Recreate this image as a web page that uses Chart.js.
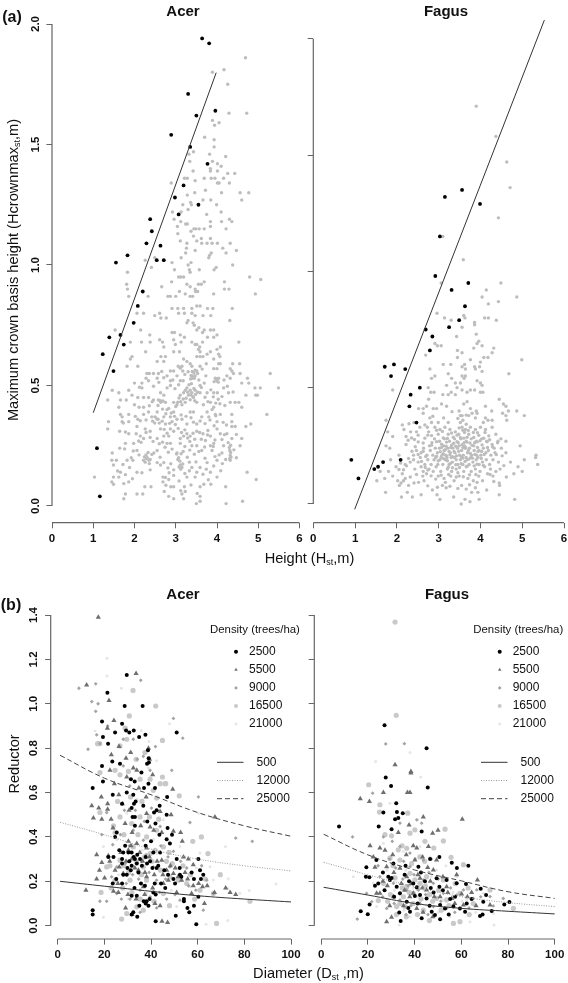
<!DOCTYPE html>
<html>
<head>
<meta charset="utf-8">
<script src="https://cdn.jsdelivr.net/npm/chart.js@4"></script>
<style>
  html, body { margin: 0; background: #fff; }
  #page { position: relative; width: 568px; height: 983px; overflow: hidden; font-family: "Liberation Sans", Arial, sans-serif; color: #111; }
  canvas { position: absolute; }
  .txt { position: absolute; white-space: nowrap; transform: translate(-50%, -50%); font-size: 14.6px; line-height: 1; }
  .rot { transform: translate(-50%, -50%) rotate(-90deg); }
  .head { font-weight: bold; font-size: 15px; }
  .tag { font-weight: bold; font-size: 16px; }
  sub { font-size: 9px; line-height: 0; vertical-align: -2px; }
</style>
</head>
<body>
<div id="page">
  <canvas id="acerHeight" width="305" height="575" style="left:0;top:0"></canvas>
  <canvas id="fagusHeight" width="263" height="575" style="left:305px;top:0"></canvas>
  <canvas id="acerDiam" width="305" height="403" style="left:0;top:580px"></canvas>
  <canvas id="fagusDiam" width="263" height="403" style="left:305px;top:580px"></canvas>

  <div class="txt tag" style="left:12px;top:17px">(a)</div>
  <div class="txt tag" style="left:11px;top:605px">(b)</div>
  <div class="txt head" style="left:183px;top:10px">Acer</div>
  <div class="txt head" style="left:446px;top:10px">Fagus</div>
  <div class="txt head" style="left:183px;top:593px">Acer</div>
  <div class="txt head" style="left:447px;top:593px">Fagus</div>
  <div class="txt rot" style="left:13px;top:270px">Maximum crown basis height (Hcrownmax<sub>st</sub>,m)</div>
  <div class="txt rot" style="left:14px;top:764px">Reductor</div>
  <div class="txt" style="left:309.5px;top:558px">Height (H<sub>st</sub>,m)</div>
  <div class="txt" style="left:308.5px;top:973px">Diameter (D<sub>st</sub> ,m)</div>
</div>
<script>
// tick labels
const heightTicks = [0, 1, 2, 3, 4, 5, 6];
const crownTicks = [0, 0.5, 1, 1.5, 2];
const diamTicks = [0, 20, 40, 60, 80, 100];
const reductorTicks = [0, 0.2, 0.4, 0.6, 0.8, 1, 1.2, 1.4];
const densityLabels = ['2500', '5500', '9000', '16500', '21000'];
const curveLabels = ['500', '12000', '25000'];

// panel (a) boundary lines
const acerBoundary = [[1, 0.387], [3.98, 1.798]];
const fagusBoundary = [[0.99, -0.023], [5.53, 2.08]];

// panel (a) Acer, points on or above the boundary
const acerAbove = [[3.64,1.94],[3.81,1.92],[3.30,1.71],[3.96,1.64],[3.50,1.62],[2.89,1.54],[3.35,1.49],[3.77,1.42],[3.19,1.33],[2.98,1.28],[3.55,1.25],[3.07,1.21],[2.38,1.19],[2.42,1.14],[2.29,1.09],[2.63,1.08],[1.83,1.04],[2.54,1.02],[2.71,1.02],[1.55,1.01],[2.20,.89],[2.08,.83],[1.98,.76],[1.39,.70],[1.66,.71],[1.74,.67],[1.23,.63],[1.49,.56],[1.09,.24],[1.16,.04]];

// panel (a) Acer, remaining trees
const acerRest = [[4.69,1.86],[3.89,1.80],[4.17,1.81],[4.26,1.75],[4.29,1.63],[4.72,1.63],[3.89,1.60],[4.05,1.59],[3.94,1.58],[3.70,1.53],[3.93,1.52],[3.93,1.49],[3.43,1.47],[3.32,1.46],[3.82,1.46],[4.21,1.45],[3.34,1.43],[3.89,1.43],[4.01,1.42],[4.10,1.41],[3.84,1.40],[4.01,1.39],[3.42,1.39],[3.84,1.39],[4.43,1.38],[4.26,1.38],[2.89,1.34],[3.21,1.36],[3.28,1.36],[3.47,1.35],[3.69,1.36],[3.86,1.36],[3.95,1.36],[4.16,1.36],[4.01,1.34],[4.05,1.34],[4.30,1.34],[3.72,1.31],[4.56,1.30],[4.77,1.30],[3.46,1.30],[3.28,1.29],[4.11,1.30],[3.66,1.27],[4.60,1.27],[3.85,1.27],[3.36,1.26],[3.38,1.25],[3.17,1.25],[3.99,1.25],[3.30,1.23],[2.92,1.22],[4.10,1.22],[3.13,1.22],[3.75,1.21],[2.96,1.19],[4.30,1.19],[4.36,1.18],[3.12,1.18],[3.84,1.18],[3.24,1.17],[3.28,1.17],[4.11,1.18],[3.04,1.16],[3.84,1.16],[3.69,1.15],[3.49,1.15],[3.57,1.15],[3.44,1.15],[3.37,1.14],[3.05,1.13],[4.22,1.15],[3.62,1.11],[3.84,1.11],[3.43,1.12],[3.11,1.10],[3.27,1.09],[3.51,1.10],[3.63,1.09],[3.76,1.09],[3.88,1.09],[4.01,1.09],[4.32,1.09],[3.26,1.07],[3.24,1.05],[3.47,1.06],[4.14,1.07],[4.47,1.06],[3.82,1.04],[3.86,1.05],[3.80,1.03],[4.22,1.05],[2.26,1.02],[2.49,1.03],[3.13,1.03],[2.91,1.01],[3.37,1.01],[3.30,1.00],[2.41,.99],[4.38,1.00],[3.98,.99],[3.93,.98],[1.83,.97],[3.57,.98],[2.97,.98],[3.33,.98],[3.35,.97],[3.12,.95],[3.07,.95],[3.19,.95],[4.79,.95],[5.06,.94],[2.90,.93],[3.69,.93],[4.18,.93],[3.27,.92],[1.81,.92],[3.55,.92],[3.62,.92],[2.66,.91],[3.35,.91],[1.83,.90],[4.18,.90],[4.29,.90],[3.47,.90],[1.86,.87],[2.81,.87],[2.87,.87],[3.0,.87],[3.09,.89],[2.33,.87],[3.23,.88],[3.35,.87],[3.41,.87],[3.48,.89],[3.53,.89],[3.92,.88],[4.93,.88],[3.59,.83],[3.51,.83],[3.77,.82],[3.90,.82],[4.37,.82],[2.91,.82],[3.05,.82],[3.19,.82],[3.39,.82],[2.06,.80],[2.22,.80],[2.61,.80],[2.49,.79],[2.64,.78],[2.77,.78],[3.07,.80],[3.21,.80],[3.39,.80],[3.47,.79],[3.66,.79],[3.85,.79],[3.30,.77],[3.27,.76],[3.42,.76],[3.45,.75],[4.31,.77],[3.56,.74],[3.65,.72],[3.51,.73],[3.69,.73],[3.84,.73],[3.92,.73],[4.0,.71],[1.53,.73],[2.91,.72],[2.97,.72],[3.11,.71],[3.21,.70],[2.15,.73],[2.37,.71],[2.61,.69],[2.68,.68],[2.95,.69],[3.13,.68],[2.99,.67],[3.39,.68],[3.47,.67],[3.51,.67],[3.58,.66],[3.65,.68],[3.77,.70],[3.92,.70],[4.53,.68],[1.90,.68],[2.17,.68],[2.38,.68],[2.71,.66],[3.55,.65],[4.08,.66],[4.0,.65],[3.84,.64],[2.27,.64],[2.95,.64],[3.09,.64],[3.59,.64],[3.76,.63],[4.04,.63],[4.07,.62],[2.64,.62],[2.75,.62],[1.94,.62],[3.51,.62],[3.59,.62],[3.66,.62],[1.90,.61],[3.92,.61],[2.55,.60],[2.71,.60],[3.19,.61],[3.27,.60],[3.35,.59],[3.39,.58],[1.82,.58],[2.08,.58],[3.06,.58],[3.15,.58],[4.04,.59],[4.08,.59],[4.38,.59],[4.55,.59],[3.59,.58],[3.74,.59],[4.32,.57],[4.36,.56],[4.40,.55],[2.95,.56],[2.87,.56],[3.17,.56],[3.51,.56],[3.92,.57],[4.0,.57],[2.30,.55],[2.36,.55],[2.46,.55],[2.58,.55],[2.79,.54],[3.03,.54],[3.39,.54],[3.47,.54],[3.53,.55],[3.73,.54],[4.24,.54],[5.29,.55],[4.74,.53],[4.56,.55],[2.55,.53],[2.28,.53],[3.45,.53],[3.40,.53],[3.96,.53],[4.0,.52],[4.04,.53],[4.32,.53],[2.87,.52],[3.11,.52],[3.18,.52],[3.59,.50],[3.69,.51],[2.0,.51],[2.18,.51],[2.34,.52],[4.60,.51],[4.77,.51],[4.16,.49],[3.27,.49],[3.23,.48],[3.35,.48],[3.39,.47],[3.47,.48],[3.43,.45],[3.31,.46],[3.19,.47],[3.11,.46],[3.59,.47],[3.76,.47],[3.92,.47],[4.01,.47],[4.28,.47],[4.92,.49],[5.05,.49],[5.49,.49],[4.70,.46],[4.94,.46],[4.98,.46],[1.46,.48],[1.62,.47],[1.86,.48],[2.18,.49],[2.79,.49],[2.87,.50],[2.63,.47],[2.71,.46],[1.94,.46],[2.08,.45],[2.22,.45],[2.34,.45],[2.46,.44],[2.58,.44],[2.64,.43],[2.75,.43],[1.35,.44],[1.66,.44],[1.80,.44],[2.95,.43],[3.03,.42],[3.15,.42],[3.23,.43],[3.51,.43],[3.67,.42],[3.92,.41],[3.84,.43],[4.32,.43],[4.44,.43],[4.53,.43],[4.60,.41],[1.62,.41],[2.0,.42],[2.11,.41],[2.22,.41],[2.55,.39],[2.79,.40],[2.95,.39],[3.35,.39],[3.43,.39],[3.76,.39],[3.88,.40],[2.34,.39],[1.66,.38],[1.86,.38],[3.96,.38],[4.08,.38],[5.21,.38],[4.36,.38],[1.70,.37],[2.22,.38],[2.42,.37],[2.50,.37],[2.08,.36],[2.71,.37],[2.87,.37],[3.03,.36],[3.15,.36],[3.63,.37],[3.80,.37],[2.57,.36],[1.37,.35],[1.70,.35],[1.86,.35],[2.75,.34],[2.91,.35],[3.27,.34],[3.51,.34],[4.0,.35],[4.36,.35],[4.82,.34],[4.70,.33],[4.36,.33],[4.44,.33],[1.35,.32],[1.64,.31],[2.06,.33],[2.26,.32],[2.38,.31],[2.63,.32],[2.87,.32],[2.95,.31],[3.51,.31],[3.66,.30],[4.0,.32],[4.08,.30],[1.86,.30],[2.04,.30],[2.14,.29],[2.71,.29],[2.83,.29],[3.19,.29],[3.27,.30],[3.35,.29],[3.84,.29],[4.24,.30],[4.60,.28],[4.36,.28],[2.22,.28],[2.55,.28],[3.11,.28],[1.78,.26],[1.98,.26],[2.10,.27],[2.79,.26],[2.87,.26],[3.11,.26],[3.39,.25],[3.51,.25],[3.84,.25],[3.92,.26],[4.16,.25],[4.56,.25],[1.64,.24],[2.06,.23],[2.55,.23],[3.03,.22],[3.63,.23],[3.88,.23],[4.12,.22],[4.31,.23],[4.32,.21],[1.46,.22],[1.45,.19],[1.56,.19],[1.82,.19],[1.92,.20],[1.96,.19],[2.31,.20],[2.22,.19],[2.35,.19],[2.47,.22],[2.55,.18],[2.63,.17],[2.71,.18],[3.07,.20],[3.11,.17],[3.15,.16],[2.95,.15],[3.39,.16],[3.59,.16],[3.76,.18],[4.0,.19],[4.32,.19],[4.47,.20],[1.49,.17],[1.66,.14],[1.88,.16],[2.06,.14],[2.38,.15],[3.51,.14],[3.84,.14],[4.73,.14],[1.49,.12],[1.03,.12],[1.62,.12],[1.78,.13],[2.69,.12],[2.83,.11],[3.27,.12],[3.47,.12],[4.0,.12],[4.95,.11],[1.45,.10],[1.86,.10],[2.69,.10],[1.49,.09],[3.68,.09],[3.85,.09],[2.25,.08],[2.40,.08],[2.88,.08],[2.95,.08],[4.21,.08],[3.59,.08],[3.21,.08],[1.78,.05],[2.06,.05],[2.20,.05],[2.72,.06],[3.15,.05],[3.23,.06],[1.74,.03],[2.83,.04],[2.95,.03],[3.19,.03],[3.59,.04],[4.62,.02],[4.22,.01],[3.50,.01],[3.59,.02]];

// panel (a) Acer, second pass over the crowded lower part
const acerCrowded = [[3.32,.503],[3.38,.507],[3.44,.488],[3.29,.472],[3.36,.462],[3.41,.455],[3.48,.463],[3.53,.472],[3.25,.447],[3.35,.441],[3.46,.437],[3.37,.542],[3.42,.535],[3.44,.552],[3.36,.527],[3.47,.563],[3.40,.558],[3.98,.527],[4.03,.514],[3.93,.516],[3.12,.433],[3.05,.431],[3.18,.444],[3.0,.413],[3.08,.448],[2.28,.212],[2.33,.222],[2.38,.193],[2.26,.182],[2.29,.197],[2.42,.214],[2.36,.176],[2.24,.204],[4.30,.243],[4.33,.222],[4.34,.203],[4.31,.197],[4.33,.252],[3.08,.162],[3.12,.153],[3.17,.174],[3.05,.193],[3.13,.217],[3.02,.216],[3.10,.186],[2.63,.437],[2.69,.436],[2.57,.417],[2.68,.402],[2.76,.383],[2.83,.405],[2.44,.352],[2.49,.344],[2.54,.361],[2.60,.344],[2.67,.352],[2.72,.318],[2.79,.302],[2.85,.343],[2.99,.338],[3.06,.322],[3.14,.305],[3.22,.316],[3.29,.282],[3.34,.268],[3.42,.302],[3.46,.277],[3.58,.305],[3.62,.277],[3.72,.272],[3.77,.295],[3.91,.247],[3.95,.274],[4.12,.276],[4.18,.296],[4.27,.263],[3.70,.245],[3.56,.226],[3.45,.215],[3.34,.232],[3.22,.247],[3.18,.226],[3.28,.202],[2.91,.236],[2.82,.223],[2.74,.244],[2.68,.265],[2.60,.258],[2.45,.268],[2.38,.284],[2.28,.305],[2.16,.264],[2.11,.212],[2.62,.202],[2.88,.175],[2.81,.158],[3.22,.135],[3.33,.146],[3.66,.132],[3.74,.153],[3.92,.166],[4.13,.176],[4.21,.193],[2.75,.118],[2.84,.138],[2.18,.138],[1.95,.113],[1.74,.093],[1.59,.145],[1.72,.172],[1.97,.228],[1.76,.237],[1.78,.307],[1.73,.344],[2.02,.372],[2.14,.354],[2.28,.357],[2.36,.416],[2.43,.433],[2.12,.493],[2.46,.497],[2.59,.513],[2.66,.558],[2.71,.532],[2.93,.523],[2.98,.487],[3.07,.503],[3.11,.572],[3.22,.546],[3.30,.557],[3.56,.523],[3.62,.492],[3.64,.568],[3.71,.451],[3.78,.433],[3.85,.482],[3.91,.453],[3.97,.427],[4.03,.443],[4.07,.424],[4.12,.454],[4.17,.523],[4.19,.417],[4.25,.497],[4.39,.473],[3.97,.374],[3.83,.357],[3.71,.342],[3.59,.353],[3.43,.348],[3.37,.366],[3.25,.372],[3.13,.378],[2.97,.372],[2.89,.386],[3.78,.313],[3.93,.333],[4.15,.347],[4.23,.336],[4.47,.297],[4.41,.233],[4.05,.212],[3.95,.205],[3.71,.198],[3.49,.183],[3.33,.182],[2.95,.127],[3.08,.104],[3.37,.087],[3.12,.063],[2.76,.086],[3.52,.052],[3.79,.109],[4.09,.146]];

// panel (a) Fagus, points on or above the boundary
const fagusAbove = [[3.56,1.35],[3.15,1.32],[3.99,1.29],[3.03,1.15],[2.92,.98],[3.71,.95],[3.31,.92],[3.63,.85],[3.49,.79],[3.25,.76],[2.69,.75],[2.85,.72],[2.79,.66],[1.71,.59],[1.93,.60],[2.20,.58],[1.86,.55],[2.55,.50],[2.33,.47],[2.30,.42],[2.47,.35],[0.91,.19],[2.09,.19],[1.67,.18],[1.55,.16],[1.46,.15],[1.08,.11]];

// panel (a) Fagus, remaining trees
const fagusRest = [[3.90,1.71],[4.37,1.58],[4.63,1.47],[4.71,1.36],[4.43,1.23],[3.10,1.15],[3.59,1.05],[3.06,.95],[4.49,.95],[4.14,.92],[4.04,.89],[4.87,.89],[4.19,.86],[4.43,.87],[2.96,.82],[3.60,.81],[3.14,.80],[3.30,.79],[3.63,.80],[4.10,.80],[4.19,.80],[4.38,.79],[3.86,.78],[3.86,.77],[3.56,.76],[3.43,.72],[3.90,.73],[3.96,.70],[3.92,.69],[3.84,.67],[4.04,.68],[2.97,.68],[3.06,.68],[2.91,.69],[3.45,.66],[3.56,.65],[4.32,.67],[4.28,.65],[4.18,.63],[4.08,.63],[2.69,.64],[3.45,.63],[3.76,.62],[4.99,.62],[4.0,.61],[3.11,.60],[3.29,.60],[3.62,.60],[3.56,.59],[3.64,.58],[3.86,.59],[3.88,.58],[3.98,.59],[4.04,.57],[4.68,.56],[2.79,.58],[3.23,.56],[3.56,.55],[2.91,.55],[2.83,.54],[3.31,.54],[3.64,.55],[3.61,.54],[3.92,.53],[3.40,.52],[3.52,.52],[3.19,.51],[4.0,.52],[4.04,.51],[3.44,.50],[1.90,.49],[2.75,.50],[3.56,.49],[3.76,.49],[3.86,.49],[3.30,.48],[2.81,.48],[2.89,.48],[4.0,.48],[4.06,.48],[3.68,.48],[3.10,.47],[3.40,.47],[2.76,.45],[3.23,.47],[3.68,.44],[4.45,.45],[4.55,.43],[3.07,.43],[3.19,.42],[3.60,.43],[4.12,.42],[2.52,.41],[2.63,.41],[2.71,.42],[2.87,.41],[2.95,.41],[4.61,.42],[4.67,.40],[4.87,.40],[3.76,.41],[3.90,.40],[4.27,.40],[2.63,.39],[3.49,.40],[3.56,.38],[3.80,.39],[3.92,.39],[4.53,.39],[4.61,.38],[4.63,.36],[5.05,.38],[3.52,.38],[3.72,.38],[3.88,.37],[2.79,.37],[4.12,.37],[4.28,.36],[1.74,.36],[2.83,.35],[2.99,.35],[3.23,.35],[3.52,.35],[4.07,.35],[4.18,.36],[2.13,.34],[2.17,.32],[2.33,.31],[2.47,.31],[2.67,.34],[2.73,.33],[2.91,.33],[3.03,.32],[3.15,.33],[3.27,.32],[3.40,.31],[3.56,.33],[3.64,.32],[3.76,.33],[3.88,.32],[4.0,.33],[4.28,.33],[1.78,.31],[1.90,.29],[2.22,.29],[2.35,.284],[2.51,.296],[2.67,.283],[2.83,.294],[2.99,.30],[3.11,.284],[3.23,.30],[3.35,.287],[3.48,.30],[3.60,.283],[3.72,.30],[3.84,.286],[3.96,.295],[4.08,.283],[4.20,.293],[4.37,.30],[4.49,.28],[1.74,.25],[2.22,.256],[2.51,.267],[2.83,.253],[2.95,.268],[3.07,.257],[3.19,.266],[3.31,.253],[3.44,.268],[3.56,.255],[3.68,.266],[3.80,.252],[3.92,.267],[4.04,.254],[4.16,.268],[4.28,.256],[4.41,.263],[4.61,.27],[4.95,.25],[5.33,.21],[5.32,.20],[5.37,.17],[5.05,.19],[4.72,.18],[4.61,.22],[4.50,.24],[4.90,.16],[5.0,.14],[4.80,.13],[4.35,.22],[4.43,.18],[4.47,.15],[4.30,.12],[4.45,.09],[4.46,.08],[4.82,.02],[4.45,.04],[3.97,.02],[3.75,.01],[3.63,.02],[3.54,.0],[3.79,.05],[3.36,.03],[3.03,.02],[2.96,.04],[2.58,.04],[2.37,.03],[2.25,.05],[2.11,.03],[1.73,.05],[2.85,.06],[3.18,.07],[2.41,.09],[2.28,.08],[2.65,.10],[3.09,.08],[3.37,.10],[3.55,.08],[3.88,.07],[3.94,.05],[4.15,.06],[1.52,.10],[1.71,.11],[1.90,.12],[2.02,.10],[2.06,.08],[2.10,.09],[2.16,.10],[2.20,.11],[2.13,.13],[2.62,.12],[2.71,.13],[2.99,.12],[3.13,.11],[3.29,.12],[3.49,.12],[3.70,.11],[3.83,.10],[3.96,.12],[4.05,.10],[4.17,.13],[1.60,.14],[1.80,.14],[1.98,.16],[2.43,.15],[2.58,.16],[2.63,.14],[2.77,.15],[2.87,.14],[2.94,.16],[3.05,.14],[3.21,.15],[3.31,.14],[3.42,.15],[3.60,.14],[3.66,.16],[3.78,.14],[3.88,.15],[3.99,.14],[4.10,.16],[4.24,.15],[4.37,.14],[2.20,.17],[2.32,.18],[2.40,.19],[2.51,.18],[2.56,.20],[2.67,.17],[2.74,.19],[2.82,.17],[2.89,.19],[2.98,.17],[3.03,.19],[3.10,.17],[3.16,.19],[3.25,.17],[3.33,.18],[3.38,.20],[3.46,.17],[3.52,.19],[3.58,.17],[3.68,.19],[3.73,.17],[3.82,.18],[3.90,.19],[3.97,.17],[4.05,.18],[4.14,.19],[4.22,.17],[4.30,.19],[2.40,.21],[2.47,.23],[2.58,.22],[2.64,.24],[2.72,.21],[2.80,.23],[2.86,.21],[2.92,.24],[2.97,.22],[3.02,.24],[3.08,.21],[3.13,.23],[3.17,.21],[3.22,.24],[3.28,.22],[3.34,.24],[3.39,.22],[3.45,.24],[3.50,.21],[3.55,.23],[3.59,.21],[3.63,.24],[3.69,.22],[3.74,.24],[3.79,.21],[3.85,.23],[3.91,.21],[3.97,.23],[4.01,.21],[4.07,.24],[4.13,.22],[4.19,.23],[4.25,.21],[4.33,.24],[2.93,.20],[3.06,.20],[3.12,.25],[3.20,.20],[3.30,.20],[3.42,.19],[3.49,.25],[3.56,.20],[3.62,.25],[3.66,.20],[3.71,.23],[3.77,.20],[3.84,.25],[3.94,.20],[2.78,.25],[2.90,.28],[3.02,.27],[3.14,.28],[3.26,.27],[3.38,.28],[3.53,.28],[3.66,.27],[3.78,.28],[3.90,.27],[4.03,.28],[4.15,.27]];

// panel (a) Fagus, second pass over the crowded core
const fagusCrowded = [[3.04,.225],[3.11,.216],[3.07,.243],[3.16,.233],[3.19,.207],[2.95,.205],[2.99,.186],[3.12,.195],[3.21,.186],[3.27,.212],[3.33,.203],[3.37,.226],[3.43,.207],[3.48,.227],[3.54,.204],[3.58,.243],[3.61,.264],[3.65,.242],[3.68,.287],[3.62,.307],[3.66,.343],[3.58,.317],[3.52,.286],[3.47,.263],[3.41,.248],[3.36,.261],[3.29,.243],[3.25,.226],[3.18,.248],[3.54,.173],[3.50,.157],[3.46,.134],[3.41,.169],[3.33,.156],[3.28,.174],[3.23,.158],[3.58,.197],[3.63,.183],[3.68,.162],[3.73,.193],[3.76,.217],[3.81,.197],[3.87,.213],[3.93,.243],[3.99,.272],[3.86,.263],[3.75,.262],[3.94,.226],[4.03,.226],[4.09,.213],[4.17,.243],[4.02,.196],[4.07,.166],[3.92,.171],[3.85,.164],[3.74,.126],[3.59,.117],[3.42,.116],[3.24,.127],[3.06,.124],[2.93,.107],[2.82,.121],[2.74,.146],[2.68,.157],[2.59,.183],[2.69,.204],[2.63,.227],[2.51,.213],[2.44,.246],[2.36,.227],[2.28,.196],[2.23,.164],[2.16,.147],[2.09,.176],[2.05,.148],[2.84,.264],[2.74,.296],[2.63,.262],[2.42,.277],[2.27,.274],[2.95,.317],[3.09,.312],[3.21,.282],[3.31,.305],[3.44,.296],[3.49,.327],[3.71,.316],[3.83,.307],[3.93,.306],[4.11,.307],[4.22,.276],[4.29,.246],[4.38,.212],[4.12,.32],[3.58,.36],[3.66,.382],[3.46,.368],[3.12,.37],[3.32,.397],[2.86,.377],[2.76,.31],[2.55,.33],[2.41,.35],[2.29,.345],[4.23,.127],[4.32,.097],[3.92,.093],[3.74,.083],[3.46,.067],[3.27,.076],[2.97,.072],[2.74,.078],[2.52,.093],[2.32,.116],[2.47,.127],[3.16,.093],[3.66,.064],[3.89,.127],[4.42,.27],[4.52,.207],[4.56,.165],[4.62,.116],[2.05,.21],[1.85,.19],[1.83,.24]];

// panel (b) Acer, one list per density class
const acer2500 = [[29.6,1.13],[21.3,1.05],[28.7,.99],[36.4,.99],[19,.92],[27.6,.91],[29.3,.88],[30.7,.87],[32.6,.88],[24.6,.87],[19.4,.85],[34.9,.85],[37.6,.86],[51,.87],[21.6,.82],[38.7,.79],[39,.755],[23.4,.74],[26.7,.73],[38.3,.73],[39.1,.735],[19,.72],[35.9,.69],[31.4,.66],[33,.65],[19.4,.65],[15,.62],[37,.62],[41.7,.62],[38.9,.64],[23.6,.59],[29.6,.60],[32.4,.59],[33.4,.56],[46.9,.58],[27.6,.55],[32.7,.55],[36.7,.54],[43.7,.54],[31.7,.53],[41.3,.51],[42.4,.52],[46.7,.50],[32.1,.49],[33.1,.49],[38.4,.47],[33.1,.45],[41.9,.46],[25.3,.42],[24.6,.40],[47.1,.44],[43.6,.41],[49,.41],[46.7,.39],[48.1,.37],[40,.38],[37.7,.36],[28.1,.33],[30.3,.33],[31.7,.33],[34.1,.32],[23.9,.31],[21.7,.31],[37.7,.31],[41,.33],[43.9,.33],[27.6,.30],[33.1,.30],[35.3,.30],[39.6,.29],[60.3,.30],[51,.30],[27.6,.28],[31.7,.27],[42.4,.26],[33.9,.28],[31.3,.25],[61,.25],[57.4,.24],[62.4,.23],[52.4,.23],[53,.22],[28.1,.23],[29.6,.23],[61.4,.21],[58.4,.21],[41.6,.19],[44.3,.19],[50.3,.19],[23.6,.19],[27.6,.19],[32.9,.17],[41,.15],[42,.14],[31.7,.135],[33.9,.135],[60.3,.13],[54.1,.12],[54.1,.11],[38.1,.11],[37.7,.10],[38.9,.09],[35,.09],[58.4,.09],[55.6,.08],[56.4,.06],[15,.07],[15,.05],[32.4,.06],[34.1,.04],[31.7,.05],[50.6,.045],[42,.02],[59.4,.006],[30.7,.29],[32.6,.31],[36.1,.27],[38.3,.28],[40.6,.26],[43.1,.27],[45.7,.25],[47.3,.23],[49.6,.21],[26.4,.34],[28.9,.36],[25.1,.21],[35.7,.19],[46.1,.17],[37.4,.18],[39.4,.12],[36.9,.11],[29.9,.26],[34.6,.24],[52.3,.26]];
const acer5500 = [[17.4,1.39],[33.6,1.136],[12.4,1.085],[22,1.015],[24.1,.925],[21.3,.89],[26.3,.807],[38.9,.80],[23,.77],[31.3,.78],[29.3,.755],[39.4,.75],[22.4,.70],[32.4,.71],[33.9,.70],[24.3,.64],[40.7,.68],[29.6,.67],[49.3,.615],[18.7,.58],[14.6,.54],[21.4,.55],[17.6,.53],[21.4,.525],[27.7,.55],[15.3,.485],[18.9,.48],[22.9,.48],[48.6,.50],[67.4,.49],[44.6,.42],[49.6,.425],[52.7,.42],[53.4,.38],[16.7,.32],[18.9,.285],[21.7,.315],[17.9,.25],[16.7,.21],[12.1,.16],[20.1,.215],[23.9,.155],[26,.15],[29.1,.08],[31.9,.05],[44.7,.02],[47.1,.014],[72,.17],[73.9,.15],[76.3,.14],[62.9,.10],[30.3,.38],[33.9,.37],[31.7,.30],[30.3,.34],[26.4,.265],[38.1,.35],[34.6,.25],[38.1,.22],[28.1,.235],[44.6,.295],[46.7,.25],[49.6,.235],[53.9,.31],[56,.30],[58.1,.275],[62.1,.175],[58.1,.18],[53.1,.205],[45.3,.19],[36.7,.175],[47.4,.205],[41.7,.10],[43.9,.09],[51,.15],[57.4,.145],[43.9,.515],[39.6,.445],[38.1,.505],[28.9,.46],[27.1,.33],[29.3,.29],[31.4,.36],[33.1,.26],[35.2,.33],[36.4,.29],[37.4,.24],[39.3,.31],[41.4,.23],[42.6,.29],[45.1,.23],[48.3,.27],[50.4,.26],[51.6,.22],[54.6,.24],[55.7,.21],[60.4,.19],[64.1,.18],[67.2,.15],[24.6,.25],[22.3,.29],[25.8,.19],[30.1,.14],[33.6,.12],[37.3,.14],[40.7,.17],[35.6,.45],[30.6,.52],[26.2,.59],[34.8,.62],[37.9,.58],[41.2,.43],[23.7,.44],[31.9,.42]];
const acer9000 = [[9.1,1.07],[16.3,1.09],[35.6,1.106],[14.6,1.01],[17.3,1.0],[16.3,.966],[49.6,.934],[21.4,.90],[16.7,.86],[13,.795],[53.6,.845],[48.9,.70],[41.9,.807],[32.4,.84],[28.1,.84],[18.1,.82],[36.7,.763],[34.1,.75],[28.1,.72],[39.6,.70],[60.3,.58],[56.7,.465],[76.3,.395],[83.4,.38],[21,.51],[18.9,.41],[23.6,.365],[21,.11],[18.1,.11],[43.9,.447],[32.4,.43],[25.3,.265],[41,.265],[48.1,.265],[55.3,.26],[63.9,.205],[66.7,.145],[31,.12],[39.6,.13],[46.7,.12],[36,.29],[28.9,.28],[42.4,.205],[35.3,.16],[36.7,.385],[49.6,.335],[52.4,.115],[42.4,.08],[25.3,.145],[35.3,.06],[62.4,.07],[24.1,.31],[26.9,.41],[28.6,.52],[30.9,.63],[33.3,.52],[37.1,.47],[40.2,.53],[44.2,.36],[47.3,.31],[52.7,.29],[56.1,.18],[59.2,.16],[61.7,.27],[34.7,.21],[37.9,.32],[29.4,.19],[32.1,.23],[46.2,.21],[50.3,.14],[43.7,.15],[27.3,.12],[23.1,.22],[39.2,.24],[30.7,.36]];
const acer16500 = [[32.3,1.06],[42,.99],[30.7,.945],[28.9,.89],[17.1,.82],[18,.82],[29.6,.84],[44.9,.835],[26.7,.81],[37.4,.78],[18.1,.69],[24.6,.70],[33.6,.75],[43.9,.64],[44.9,.67],[30.3,.695],[39.6,.66],[46.3,.64],[35.3,.66],[26.7,.68],[52.1,.585],[18.1,.51],[23.9,.45],[24.6,.42],[41,.61],[46,.64],[42.4,.575],[57.9,.38],[61.6,.40],[64.4,.325],[22.4,.27],[21,.265],[69.7,.23],[66.7,.145],[82.4,.11],[68.1,.01],[27.4,.03],[18.6,.15],[32.4,.355],[36.7,.265],[26.7,.295],[31,.205],[38.1,.205],[39.6,.325],[45.3,.355],[48.1,.22],[51.7,.205],[55.3,.19],[61,.16],[36.7,.07],[45.3,.145],[29.6,.055],[33.9,.085],[24.6,.205],[35.3,.49],[26.7,.49],[38.1,.40],[42.4,.43],[28.3,.27],[30.4,.24],[33.7,.29],[35.9,.23],[37.3,.31],[40.4,.29],[41.8,.34],[44.1,.25],[46.6,.29],[47.7,.33],[49.1,.28],[53.7,.27],[56.9,.23],[58.7,.12],[63.3,.21],[27.9,.17],[31.8,.15],[35.4,.12],[41.3,.11],[47.9,.09],[22.9,.17],[25.7,.56],[31.2,.58],[36.1,.56],[39.3,.49],[28.4,.41],[31.7,.46],[34.4,.41],[43.3,.48]];
const acer21000 = [[21.1,1.205],[21.1,1.125],[27.3,1.07],[16,.877],[35.9,.88],[47.9,.91],[42.4,.743],[39.1,.83],[38.9,.71],[60.3,.507],[93.6,.188],[82.1,.158],[71.9,.357],[72.9,.167],[72.9,.023],[63.6,.006],[19.6,.038],[65.3,.266],[66.7,.206],[73.1,.212],[78.1,.146],[32.4,.266],[42.4,.326],[25.3,.387],[35.3,.447],[52.4,.357],[61,.327],[29.6,.507],[19.6,.357],[38.1,.146],[51,.086],[45.3,.477],[56.7,.176],[34.1,.57],[41.1,.39],[47.6,.38],[54.2,.31],[59.4,.26],[26.1,.23],[30.3,.12],[43.2,.19],[36.2,.34],[48.7,.16]];

// panel (b) Fagus, one list per density class
const fagus2500 = [[27.1,.903],[45.1,.80],[27.6,.668],[29.9,.63],[45.6,.623],[7.6,.447],[32.1,.552],[26.6,.51],[32.4,.512],[34.9,.507],[31.6,.48],[33,.485],[24.6,.447],[30.1,.435],[43,.424],[23.6,.296],[19.3,.263],[30.9,.28],[19.1,.22],[20.6,.218],[28.7,.22],[29.4,.206],[23,.18],[24.4,.19],[41.6,.266],[46.6,.30],[50.6,.31],[55.9,.284],[58.1,.26],[63,.27],[49.4,.214],[50.6,.176],[40.9,.173],[53.7,.206],[62,.188],[58,.191],[68.3,.166],[70.6,.138],[32.3,.176],[33.7,.146],[36.6,.108],[40.1,.134],[42.3,.138],[45.1,.123],[50.9,.093],[53,.078],[59.4,.078],[62.3,.10],[69.4,.108],[80.6,.107],[78.4,.096],[16.9,.065],[19.9,.051],[20.7,.095],[33.4,.059],[34,.021],[38,.063],[43,.033],[47.3,.063],[48.7,.048],[50.9,.029],[68,.044],[69.1,.05],[61.6,.063],[73,.066],[56.6,.086],[26.4,.24],[30.1,.215],[35.7,.23],[37.6,.20],[39.4,.19],[44.4,.20],[46.9,.17],[48.1,.15],[52.1,.16],[55.2,.12],[57.3,.13],[64.4,.12],[37.3,.08],[41.3,.10],[46.4,.09],[54.6,.05],[31.2,.13],[27.1,.16],[42.7,.24],[36.1,.27]];
const fagus5500 = [[31.6,.725],[38.4,.695],[38.4,.688],[16.7,.572],[20.6,.56],[26.6,.60],[36.9,.60],[38,.60],[43.7,.49],[60.4,.48],[37.6,.454],[33,.42],[47.7,.417],[50,.43],[20.9,.36],[25.1,.35],[39.4,.36],[45.9,.357],[40.9,.35],[22.3,.31],[27.3,.34],[40.1,.296],[49.4,.296],[45.6,.262],[28,.266],[58,.229],[66.9,.206],[64.4,.15],[60.1,.143],[28,.018],[30.1,.038],[23.7,.146],[23,.263],[33.7,.259],[36.6,.22],[42.3,.214],[48,.251],[53.7,.176],[55.9,.123],[45.1,.161],[39.4,.146],[30.9,.13],[25.1,.146],[60.9,.093],[72.3,.093],[50.9,.13],[40.9,.078],[26.4,.20],[28.3,.18],[31.1,.24],[34.3,.19],[35.7,.16],[37.9,.13],[38.6,.19],[41.4,.23],[43.3,.17],[46.7,.20],[48.4,.13],[52.1,.22],[54.2,.15],[57.2,.10],[62.6,.13],[66.3,.09],[35.2,.09],[29.3,.09],[43.6,.06],[47.8,.04],[36.4,.32],[43.4,.31],[30.6,.32]];
const fagus9000 = [[27.6,.819],[35.6,.82],[22,.597],[13.4,.40],[43,.462],[40.9,.477],[33.7,.462],[26.6,.40],[33.7,.357],[38,.327],[43.7,.296],[25.1,.221],[30.9,.191],[36.6,.161],[48,.191],[52.3,.146],[58,.138],[65.1,.123],[72.3,.131],[78,.123],[73.7,.089],[28,.078],[33.7,.116],[42.3,.10],[48,.086],[53.7,.078],[21.6,.108],[15.4,.03],[38,.266],[43.7,.206],[19.4,.146],[60.9,.161],[66.6,.161],[24.3,.27],[29.2,.30],[31.9,.26],[34.9,.21],[35.3,.29],[37.2,.18],[39.7,.23],[41.6,.16],[44.7,.14],[46.1,.24],[50.1,.21],[51.2,.11],[55.4,.17],[57.2,.06],[63.3,.08],[68.3,.13],[31.2,.10],[38.4,.09],[45.7,.05],[36.3,.05],[26.3,.13],[40.2,.30],[47.2,.30],[30.4,.38]];
const fagus16500 = [[31.6,1.368],[32.1,.948],[20.3,.635],[25.1,.545],[24.9,.512],[37,.507],[27.3,.41],[30.1,.405],[52.3,.382],[53,.435],[44.4,.38],[38,.417],[40.1,.432],[33,.342],[36.6,.349],[29.4,.304],[33.7,.296],[55.6,.308],[60.9,.275],[38,.236],[40.1,.206],[42.3,.191],[33.7,.1],[32.3,.086],[35.9,.086],[39.4,.1],[43.7,.07],[46.3,.023],[56.6,.01],[59.4,.018],[82.3,.078],[72.3,.161],[65.1,.1],[24.4,.113],[53.7,.116],[49.4,.123],[36.6,.176],[26.6,.191],[45.1,.221],[52.3,.206],[59.4,.146],[39.4,.146],[31.6,.215],[34.7,.17],[35.2,.13],[37.7,.15],[38.7,.28],[41.3,.17],[42.7,.12],[44.6,.18],[46.4,.14],[47.7,.11],[50.3,.16],[51.4,.07],[54.7,.09],[57.4,.19],[62.9,.17],[63.4,.05],[29.6,.14],[28.4,.11],[36.4,.04],[41.2,.05],[30.7,.27],[34.6,.36],[42.2,.31],[48.2,.35],[44.3,.29],[32.2,.05]];
const fagus21000 = [[23.3,.74],[38,.78],[42.6,.67],[29.4,.552],[41.1,.477],[13.7,.221],[33.4,.003],[74,.003],[77.7,.123],[63.7,.018],[46.6,.31],[26.6,.372],[35.1,.334],[42.3,.357],[49.4,.251],[30.9,.221],[22.3,.191],[33.7,.138],[41.6,.131],[52.3,.116],[62.3,.116],[69.4,.146],[45.1,.093],[38,.04],[23.7,.086],[73.7,.056],[55.1,.04],[58,.221],[36.2,.25],[39.3,.17],[44.2,.16],[47.1,.22],[56.4,.15],[60.3,.11],[66.2,.06],[31.3,.16],[28.1,.25],[35.4,.07],[50.2,.06],[53.4,.27]];

const curveDiams = [1, 20, 40, 60, 80, 100];
const acerCurve500 = [0.20, 0.178, 0.155, 0.135, 0.12, 0.107];
const acerCurve12000 = [0.466, 0.41, 0.345, 0.30, 0.27, 0.247];
const acerCurve25000 = [0.768, 0.665, 0.59, 0.51, 0.45, 0.403];
const fagusCurve500 = [0.173, 0.138, 0.10, 0.078, 0.065, 0.053];
const fagusCurve12000 = [0.286, 0.229, 0.176, 0.131, 0.104, 0.086];
const fagusCurve25000 = [0.412, 0.319, 0.251, 0.202, 0.153, 0.123];

const toXY = (pairs) => pairs.map((p) => ({ x: p[0], y: p[1] }));

const densityStyles = [
  { pointStyle: 'circle', radius: 2, color: '#000' },
  { pointStyle: 'triangle', radius: 3, color: '#6e6e6e' },
  { pointStyle: 'rectRot', radius: 1.9, color: '#a3a3a3' },
  { pointStyle: 'circle', radius: 2.6, color: '#c9c9c9' },
  { pointStyle: 'circle', radius: 1.5, color: '#e6e6e6' },
];
const curveStyles = [
  { color: '#333', dash: [] },
  { color: '#999', dash: [1, 1.5] },
  { color: '#444', dash: [5, 3] },
];

// R style axis line, runs only from first to last tick
const axisLines = {
  id: 'axisLines',
  afterDraw(chart) {
    const { ctx, scales, chartArea } = chart;
    const xt = scales.x.ticks, yt = scales.y.ticks;
    ctx.save();
    ctx.strokeStyle = '#666';
    ctx.lineWidth = 1.2;
    ctx.beginPath();
    ctx.moveTo(chartArea.left, scales.y.getPixelForValue(yt[0].value));
    ctx.lineTo(chartArea.left, scales.y.getPixelForValue(yt[yt.length - 1].value));
    ctx.moveTo(scales.x.getPixelForValue(xt[0].value), chartArea.bottom);
    ctx.lineTo(scales.x.getPixelForValue(xt[xt.length - 1].value), chartArea.bottom);
    ctx.stroke();
    ctx.restore();
  },
};

// density + curve key used in panel (b)
const densityKey = {
  id: 'densityKey',
  afterDraw(chart, args, opts) {
    if (!opts.show) return;
    const ctx = chart.ctx;
    ctx.save();
    ctx.fillStyle = '#111';
    ctx.textBaseline = 'middle';
    ctx.font = '11.4px "Liberation Sans"';
    ctx.fillText('Density (trees/ha)', opts.titleX, 49.5);
    ctx.font = '12px "Liberation Sans"';
    densityLabels.forEach((label, i) => {
      const y = 71.7 + i * 18.1;
      const st = densityStyles[i];
      ctx.fillStyle = st.color;
      ctx.strokeStyle = st.color;
      Chart.helpers.drawPoint(ctx, { pointStyle: st.pointStyle, radius: Math.min(st.radius, 2), rotation: 0, borderWidth: 0 }, opts.symbolX, y);
      ctx.fillStyle = '#111';
      ctx.fillText(label, opts.symbolX + 13, y);
    });
    curveLabels.forEach((label, i) => {
      const y = 182.3 + i * 18.2;
      ctx.strokeStyle = curveStyles[i].color;
      ctx.setLineDash(curveStyles[i].dash);
      ctx.lineWidth = 1;
      ctx.beginPath();
      ctx.moveTo(opts.lineX, y);
      ctx.lineTo(opts.lineX + 26.5, y);
      ctx.stroke();
      ctx.setLineDash([]);
      ctx.fillStyle = '#111';
      ctx.fillText(label, opts.lineX + 39.5, y);
    });
    ctx.restore();
  },
};

function axis(min, max, ticks, fmt, showLabels, fixedSize, pad, isY) {
  return {
    type: 'linear', min, max,
    border: { display: false },
    grid: { drawOnChartArea: false, drawTicks: true, tickLength: 5.6, tickColor: '#666', tickWidth: 1 },
    ticks: {
      display: showLabels, autoSkip: false, color: '#111', padding: pad,
      font: { family: 'Liberation Sans', size: 11.5, weight: 'bold' },
      minRotation: isY ? 90 : 0, maxRotation: isY ? 90 : 0,
      crossAlign: isY ? 'center' : 'near',
      callback: fmt,
    },
    afterBuildTicks(s) { s.ticks = ticks.map((value) => ({ value })); },
    afterFit(s) {
      if (isY) { s.width = fixedSize; s.paddingTop = 0; s.paddingBottom = 0; }
      else { s.height = fixedSize; s.paddingLeft = 0; s.paddingRight = 0; }
    },
  };
}

function panel(id, cfg) {
  return new Chart(document.getElementById(id), {
    type: 'scatter',
    data: { datasets: cfg.datasets },
    plugins: [axisLines, densityKey],
    options: {
      responsive: false,
      animation: false,
      layout: { padding: { top: cfg.top, right: cfg.right, left: 0, bottom: 0 } },
      plugins: { legend: { display: false }, tooltip: { enabled: false }, densityKey: cfg.key || { show: false } },
      scales: {
        x: axis(cfg.xMin, cfg.xMax, cfg.xTicks, cfg.xFmt, true, cfg.xHeight, 3.5, false),
        y: axis(cfg.yMin, cfg.yMax, cfg.yTicks, (v) => v.toFixed(1), cfg.yLabels, cfg.yWidth, 3, true),
      },
    },
  });
}

function boundaryLine(pairs) {
  return { data: toXY(pairs), showLine: true, pointRadius: 0, borderColor: '#333', borderWidth: 1, clip: false };
}
function dots(pairs, color, radius) {
  return { data: toXY(pairs), pointRadius: radius, pointBackgroundColor: color, pointBorderWidth: 0, clip: false };
}
function curve(values, st) {
  return {
    data: curveDiams.map((d, i) => ({ x: d, y: values[i] })),
    showLine: true, tension: 0.4, pointRadius: 0, borderColor: st.color, borderWidth: 1, borderDash: st.dash, clip: false,
  };
}
function densitySets(groups) {
  return groups.map((pairs, i) => ({
    data: toXY(pairs),
    pointStyle: densityStyles[i].pointStyle,
    pointRadius: densityStyles[i].radius,
    pointBackgroundColor: densityStyles[i].color,
    pointBorderWidth: 0,
    clip: false,
  }));
}

const plainFmt = (v) => String(v);

panel('acerHeight', {
  datasets: [boundaryLine(acerBoundary), dots(acerAbove, '#000', 1.9), dots(acerRest.concat(acerCrowded), '#bdbdbd', 1.7)],
  xMin: 0, xMax: 6, xTicks: heightTicks, xFmt: plainFmt,
  yMin: -0.0693, yMax: 2, yTicks: crownTicks, yLabels: true,
  top: 24, right: 5.5, yWidth: 52, xHeight: 52.3,
});
panel('fagusHeight', {
  datasets: [boundaryLine(fagusBoundary), dots(fagusAbove, '#000', 1.9), dots(fagusRest.concat(fagusCrowded), '#bdbdbd', 1.7)],
  xMin: 0, xMax: 6, xTicks: heightTicks, xFmt: plainFmt,
  yMin: -0.0804, yMax: 2, yTicks: crownTicks, yLabels: false,
  top: 38.7, right: 2.3, yWidth: 8.3, xHeight: 52.3,
});
panel('acerDiam', {
  datasets: [
    curve(acerCurve500, curveStyles[0]), curve(acerCurve12000, curveStyles[1]), curve(acerCurve25000, curveStyles[2]),
    ...densitySets([acer2500, acer5500, acer9000, acer16500, acer21000]),
  ],
  xMin: -3, xMax: 100, xTicks: diamTicks, xFmt: plainFmt,
  yMin: -0.06, yMax: 1.4, yTicks: reductorTicks, yLabels: true,
  top: 35, right: 14, yWidth: 50.7, xHeight: 44,
  key: { show: true, titleX: 210, symbolX: 236, lineX: 217 },
});
panel('fagusDiam', {
  datasets: [
    curve(fagusCurve500, curveStyles[0]), curve(fagusCurve12000, curveStyles[1]), curve(fagusCurve25000, curveStyles[2]),
    ...densitySets([fagus2500, fagus5500, fagus9000, fagus16500, fagus21000]),
  ],
  xMin: -3, xMax: 100, xTicks: diamTicks, xFmt: plainFmt,
  yMin: -0.06, yMax: 1.4, yTicks: reductorTicks, yLabels: false,
  top: 35, right: 13.3, yWidth: 9.3, xHeight: 44,
  key: { show: true, titleX: 168.3, symbolX: 194.7, lineX: 176 },
});
</script>
</body>
</html>
